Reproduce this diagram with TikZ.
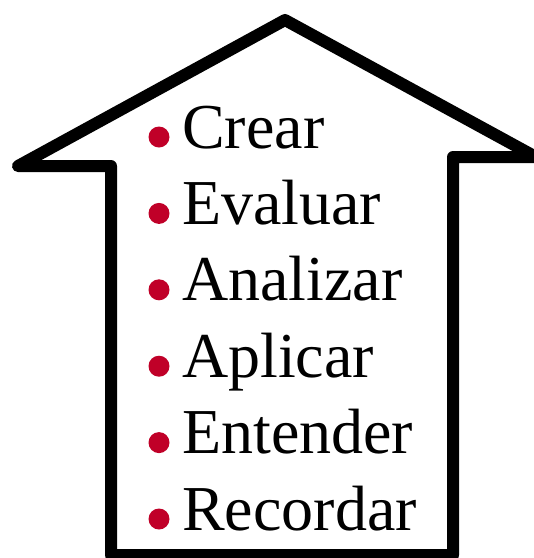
\documentclass[tikz,border=0pt]{standalone}
\usepackage{fontspec}
\setmainfont{Liberation Serif}
\definecolor{bulletred}{RGB}{192,0,40}
\begin{document}
\begin{tikzpicture}[x=1pt,y=-1pt,
  arrowline/.style={line width=12pt,line join=round,draw=black,fill=white},
  itemtext/.style={anchor=base west,inner sep=0pt,font=\fontsize{64}{76}\selectfont},
  bulletdot/.style={circle,fill=bulletred,minimum size=21pt,inner sep=0pt}]
\useasboundingbox (0,0) rectangle (534,558);
\clip (0,0) rectangle (534,558);
\fill[white] (0,0) rectangle (534,558);
\draw[arrowline] (285,20) -- (536,157) -- (453,157) -- (453,555) -- (111,555) -- (111,166) -- (18,166) -- cycle;
\foreach \t [count=\i from 0] in {Crear,Evaluar,Analizar,Aplicar,Entender,Recordar}{
  \node[itemtext] (item\i) at (182,{148+76.4*\i}) {\t};
  \node[bulletdot] (dot\i) at (159,{137+76.4*\i}) {};
}
\end{tikzpicture}
\end{document}
